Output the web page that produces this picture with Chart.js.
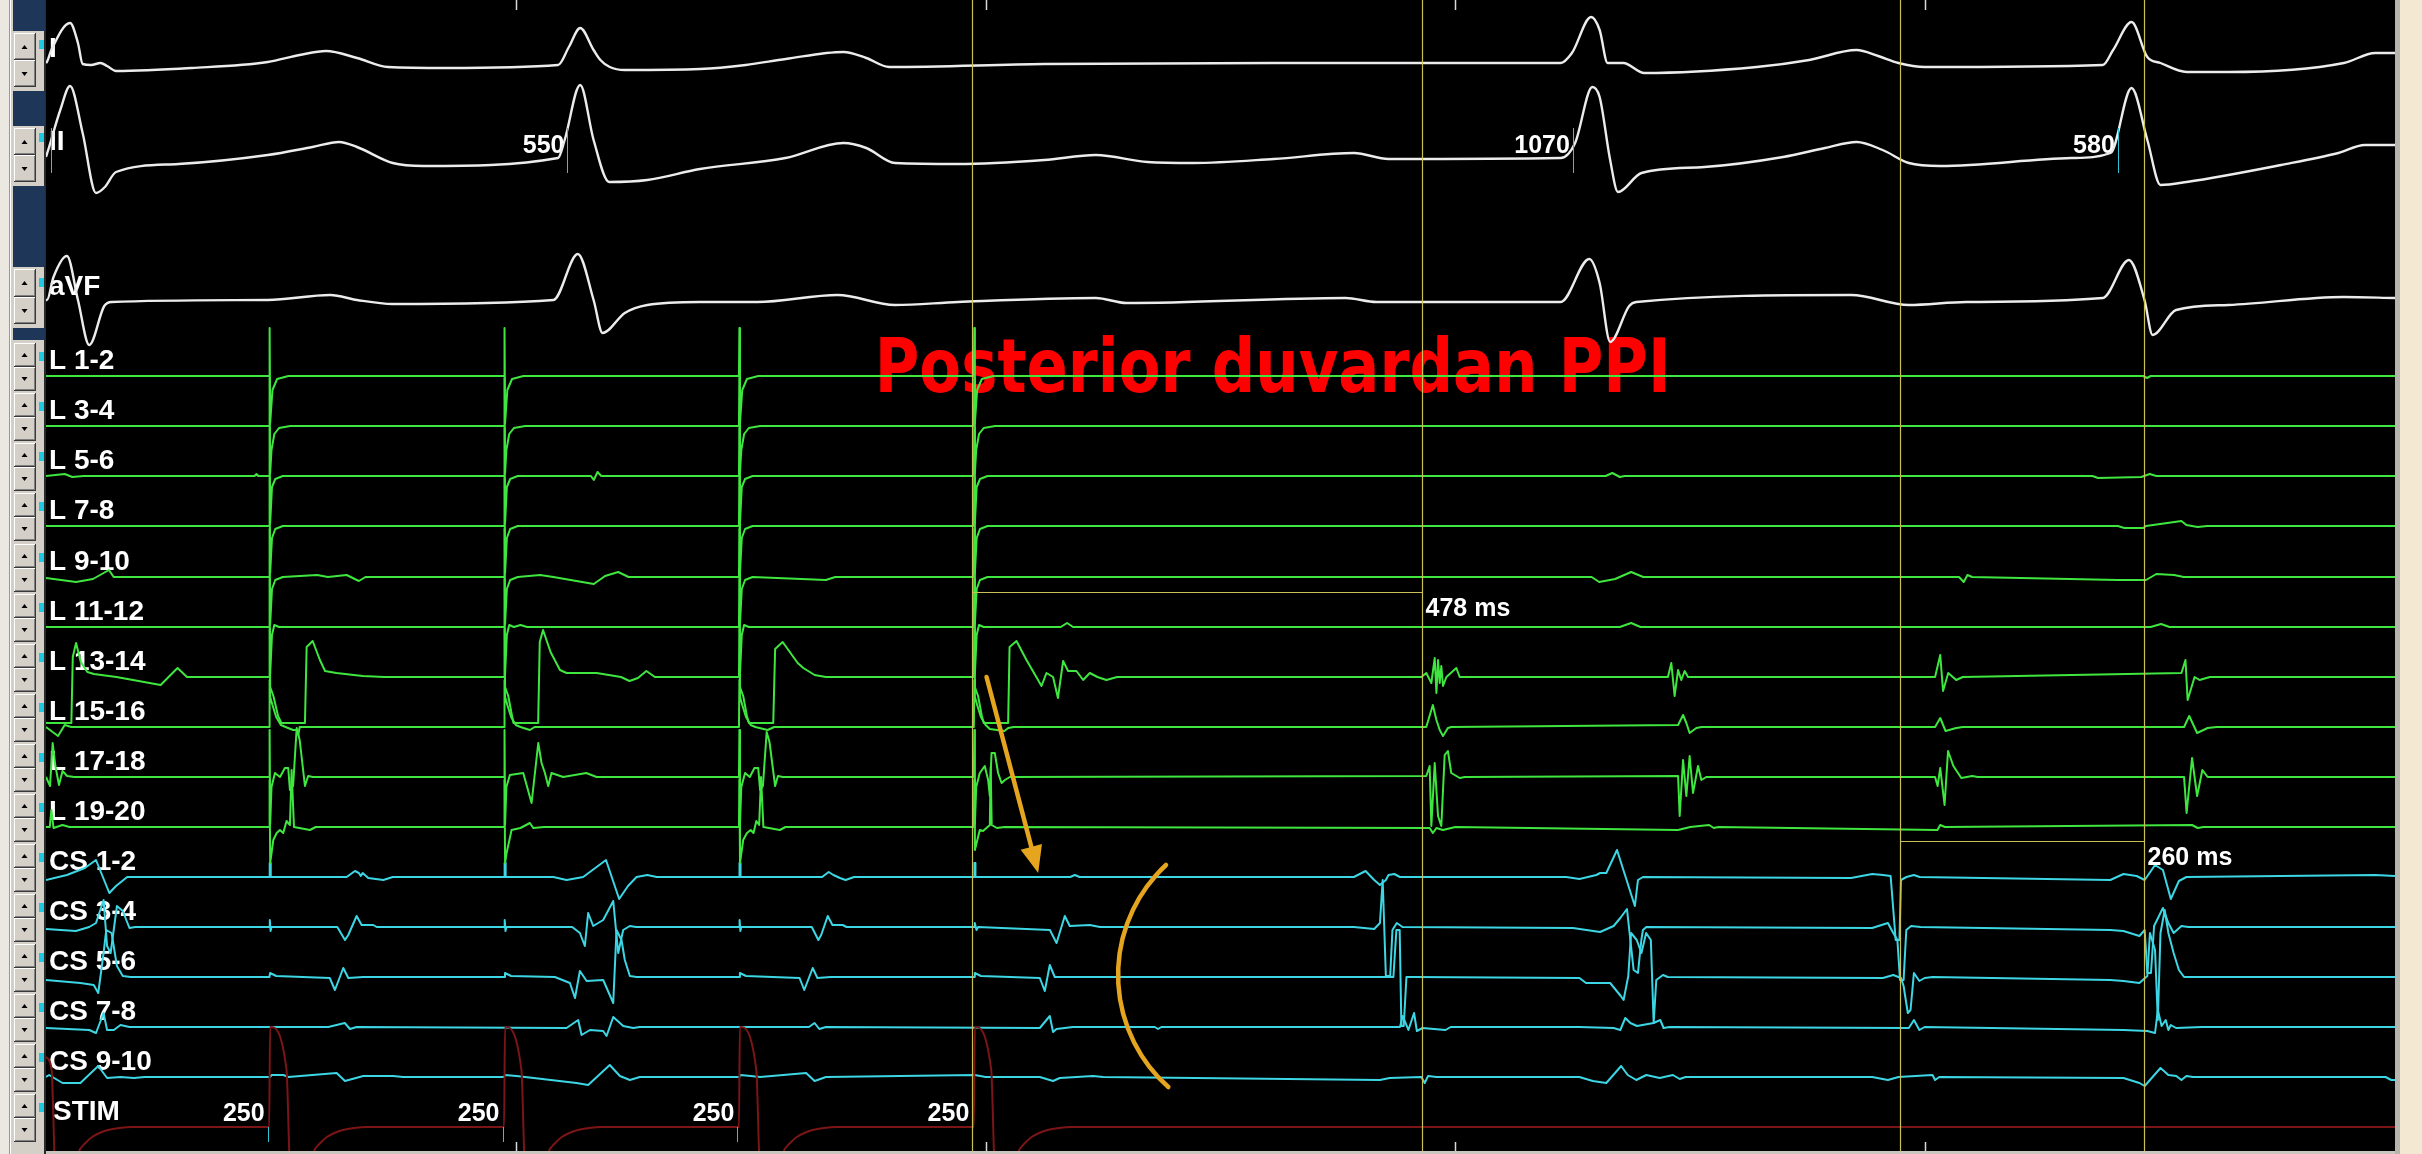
<!DOCTYPE html>
<html>
<head>
<meta charset="utf-8">
<title>Posterior duvardan PPI</title>
<script src="https://cdn.jsdelivr.net/npm/chart.js@4.4.1/dist/chart.umd.min.js"></script>
<style>
  html, body { margin: 0; padding: 0; background: #000; overflow: hidden; }
  #wrap { width: 2422px; height: 1154px; }
</style>
</head>
<body>
<div id="wrap"><canvas id="chart" width="2422" height="1154"></canvas></div>
<script>
// channels, top to bottom
const channelNames = ['I', 'II', 'aVF', 'L 1-2', 'L 3-4', 'L 5-6', 'L 7-8', 'L 9-10', 'L 11-12', 'L 13-14',
    'L 15-16', 'L 17-18', 'L 19-20', 'CS 1-2', 'CS 3-4', 'CS 5-6', 'CS 7-8', 'CS 9-10', 'STIM'];

// events (ms from left edge of the 2500 ms window)
const paceTimes = [238, 488, 738, 988];
const paceLabels = ['250', '250', '250', '250'];
const qrsOnsets = [5, 555, 1625, 2205];
const rrLabels = ['', '550', '1070', '580'];
const cursorTimes = [986, 1464, 1973, 2233];
const intervalLabels = ['478 ms', '260 ms'];
const timeMarks = [500, 1000, 1500, 2000];

// signals: flat lists of [time ms, amplitude] pairs
const leadI = [
    0,4, 1,5, 5.7,17, 25.6,44, 34,24, 39,3, 48,2, 58,4, 65,1, 74.5,-4, 155,-1, 236,5, 270,12, 298,16, 331,9, 364,0, 426,-1, 545,2,
    556.5,20, 568.5,39, 582.8,17, 590,7, 600,0, 616,-3, 696,-2, 744.7,2, 787.4,8, 848.6,15, 873,9, 897.4,0, 1062,3, 1306.7,4, 1612,4,
    1624,14, 1644.4,50, 1653.5,37, 1662,4, 1678.7,4, 1701,-6, 1820.6,0, 1876.6,7, 1926.9,17, 1950,11, 1971.5,4, 1999.4,0, 2189,2,
    2200,17, 2219.6,45, 2236.4,10, 2250.4,4, 2278.2,-5, 2322.8,-5, 2445.6,4, 2479,14, 2500,14
];
const leadII = [
    0,5, 3.3,15, 15.2,52, 25.6,76, 39,29, 53.2,-31, 62.7,-25, 74.5,-10, 141,-2, 236,7, 283.6,15, 312,20, 331,15, 369,-1, 402,-4, 545,4,
    552,22, 568.5,77, 582.8,22, 599.4,-20, 640,-18, 696,-7, 787,4, 848.6,19, 873,14, 903.6,-1, 970.7,-2, 1062.4,2, 1117.3,7, 1172.3,0,
    1221,-1, 1306.7,3, 1392,9, 1428.8,3, 1612,4, 1627.4,19, 1645.7,75, 1653.5,65, 1664.7,2, 1673,-30, 1698,-11, 1765,-5, 1848.8,5,
    1893.4,14, 1927,20, 1954.7,12, 1982.6,-1, 2016,-4, 2155.6,4, 2197.3,9, 2219.6,74, 2236.4,22, 2250.4,-23, 2278.2,-20, 2378.7,-3,
    2439.8,9, 2467.8,17, 2500,17
];
const leadAVF = [
    0,2, 1,2, 8,25, 22.3,46, 34,2, 46,-43, 62,-4, 69.8,0, 236,2, 302.5,7, 331,2, 369,-2, 540,2, 566,48, 582.8,2, 592.3,-31, 616,-11,
    640,-3, 696,0, 757,0, 842.5,7, 903.6,-3, 970.7,0, 1117.3,4, 1150,-1, 1383,4, 1416,0, 1612,0, 1642.5,43, 1653.5,19, 1664.7,-40,
    1685,-4, 1692.6,0, 1921.3,7, 1982.6,-3, 2044,0, 2189,4, 2216.8,42, 2233.4,2, 2242,-33, 2267,-8, 2322.8,-3, 2445.6,5, 2500,4
];
const l12 = [
    0,0, 237.5,0, 238,48, 238.6,-47, 241,-14, 246,-3, 258,0,
    487.5,0, 488,48, 488.6,-47, 491,-14, 496,-3, 508,0,
    737.5,0, 738,48, 738.6,-47, 741,-14, 746,-3, 758,0,
    987.5,0, 988,48, 988.6,-47, 991,-14, 996,-3, 1008,0,
    2232,0, 2236,-2, 2240,0, 2500,0
];
const l34 = [
    0,0, 237.5,0, 238,48, 238.6,-47, 240,-24, 243,-8, 248,-2, 260,0,
    487.5,0, 488,48, 488.6,-47, 490,-24, 493,-8, 498,-2, 510,0,
    737.5,0, 738,48, 738.6,-47, 740,-24, 743,-8, 748,-2, 760,0,
    987.5,0, 988,48, 988.6,-47, 990,-24, 993,-8, 998,-2, 1010,0, 2500,0
];
const l56 = [
    0,0, 20,2, 28,-1, 40,0, 222,0, 224,2, 226,0, 237.5,0, 238,48, 238.6,-47, 240.5,-11, 244,-3, 252,0,
    487.5,0, 488,48, 488.6,-47, 490.5,-11, 494,-3, 502,0, 580,0, 583,-4, 587,4, 591,0,
    737.5,0, 738,48, 738.6,-47, 740.5,-11, 744,-3, 752,0,
    987.5,0, 988,48, 988.6,-47, 990.5,-11, 994,-3, 1002,0,
    1660,0, 1667,3, 1675,-1, 1680,0, 2178,0, 2184,-2, 2230,-1, 2239,2, 2246,0, 2500,0
];
const l78 = [
    0,0, 237.5,0, 238,48, 238.6,-47, 240.5,-12, 244,-3, 252,0,
    487.5,0, 488,48, 488.6,-47, 490.5,-12, 494,-3, 502,0,
    737.5,0, 738,48, 738.6,-47, 740.5,-12, 744,-3, 752,0,
    987.5,0, 988,48, 988.6,-47, 990.5,-12, 994,-3, 1002,0,
    2205,0, 2212,-2, 2232,-2, 2235,0, 2272.7,5, 2278,1, 2290,-1, 2300,0, 2500,0
];
const l910 = [
    0,-1, 32,-5, 50,-2, 67,7, 72,0, 236,0,
    237.5,0, 238,48, 238.6,-47, 240.5,-12, 244,-3, 252,0, 288.6,2, 300,0, 320,2, 333,-4, 340,0,
    487.5,0, 488,48, 488.6,-47, 490.5,-12, 494,-3, 502,0, 526,2, 540,0, 583,-7, 595,1, 609,5, 620,0,
    737.5,0, 738,48, 738.6,-47, 740.5,-12, 744,-3, 752,0, 830,-3, 840,0,
    987.5,0, 988,48, 988.6,-47, 990.5,-12, 994,-3, 1002,0,
    1645,0, 1653,-5, 1670,-2, 1687,5, 1700,0, 2036,0, 2041,-5, 2045,2, 2050,0,
    2205,-3, 2235,-3, 2246,3, 2265,2, 2275,0, 2500,0
];
const l1112 = [
    0,0, 237.5,0, 238,48, 238.6,-47, 240.5,-8, 243,2, 248,0,
    487.5,0, 488,48, 488.6,-47, 490.5,-8, 493,2, 498,0, 505,2, 512,0,
    737.5,0, 738,48, 738.6,-47, 740.5,-8, 743,2, 748,0,
    987.5,0, 988,48, 988.6,-47, 990.5,-8, 993,2, 998,0, 1080,0, 1086.7,4, 1093,0,
    1675,0, 1687,4, 1697,0, 2240,0, 2251,3, 2260,0, 2500,0
];
const l1314 = [
    0,-46, 27,-46, 28.5,20, 32,34, 37,15, 44,5, 51,3, 75,0, 122,-8, 140,9, 150,0,
    237.5,0, 238,48, 238.6,-10, 242,-19, 247,-39, 250.5,-46, 275.6,-46, 277.4,30, 283.8,36, 291.5,17, 297,6, 309,4, 337,1, 360,0,
    487.5,0, 488,48, 488.6,-10, 492,-19, 496,-39, 497.5,-46, 523.8,-46, 525.5,35, 529,47, 537,25, 547,7, 554,4, 586,4, 612,0, 621,-4, 630,-1, 639,6, 648,0,
    737.5,0, 738,48, 738.6,-10, 742,-19, 746,-39, 748,-46, 774,-46, 776,28, 784,35, 800,14, 806,9, 818,2, 830,0,
    987.5,0, 988,48, 988.6,-10, 992,-19, 996,-39, 998,-46, 1024,-46, 1025.5,30, 1032.9,36, 1043.5,17, 1054,0, 1059.5,-9, 1064.8,4,
    1071.8,0, 1077,-21, 1082.5,16, 1087.8,6, 1096.7,6, 1103.8,-3, 1110.9,4, 1119,0, 1128.6,-3, 1140,0,
    1463.8,0, 1469,4, 1474.4,-6, 1478,19, 1479.8,-16, 1481.5,17, 1483.3,-6, 1485,11, 1486.8,-9, 1490.4,0, 1501,9, 1504.6,0,
    1726.2,0, 1729.8,14, 1733.3,-19, 1737,7, 1740.4,-3, 1744,6, 1747.6,0,
    2010.5,0, 2016,22, 2019,-14, 2024.5,4, 2033,-3, 2040,0,
    2272.7,4, 2277,17, 2279.3,-23, 2286.7,0, 2292,-3, 2303,0, 2500,0
];
const l1516 = [
    0,0, 12.8,-9, 19.9,2, 27,0,
    237.5,0, 238,47, 238.6,30, 241,22, 245,10, 250,2, 255,0, 263,-3, 266.7,-3, 268.5,-8, 270,0, 276,0,
    487.5,0, 488,47, 488.6,30, 491,22, 495,10, 500,2, 505,0, 515,-3, 520,0,
    737.5,0, 738,47, 738.6,30, 741,22, 745,10, 750,2, 755,0, 768,-3, 775,0,
    987.5,0, 988,47, 988.6,30, 991,22, 995,10, 1000,2, 1004.5,-2, 1020,-4, 1024,-1, 1030,0,
    1469,0, 1476,22, 1479.8,7, 1483.3,-3, 1486.8,-9, 1492,-1, 1495.6,0,
    1737,2, 1742.3,12, 1745.8,4, 1749.3,-6, 1756.4,-1, 1762,0,
    2010.5,0, 2016,9, 2021.7,-4, 2033,-1, 2040,0,
    2275.5,0, 2281,11, 2289.4,-6, 2300.6,-1, 2310,0, 2500,0
];
const l1718 = [
    0,0, 4.3,-9, 7.1,34, 10,11, 13.8,-8, 17.6,6, 22.5,1, 30,0,
    237.5,0, 238,47, 238.6,-47, 240,-10, 243.7,4, 249,0, 254.3,9, 257.8,9, 259.6,-13, 263,-9, 266.8,49, 270,37, 275.6,-9, 279,1, 284,0,
    487.5,0, 488,47, 488.6,-47, 490,-10, 493.7,2, 507.9,4, 516.8,-26, 523.9,34, 527.4,14, 531,4, 534.5,-9, 538,4, 550.4,0, 575,4, 586,0,
    737.5,0, 738,47, 738.6,-47, 740,-10, 744,4, 749,0, 754,9, 758,9, 760,-13, 763,-9, 767,45, 770,35, 776,-9, 779,1, 784,0,
    987.5,0, 988,47, 988.6,-47, 990,-10, 993.8,4, 999.1,11, 1002.7,-3, 1004.5,-19, 1006.3,24, 1009.8,24, 1013.3,4, 1017,-6, 1020.5,-3, 1025.8,0,
    1469,1, 1472.6,11, 1474.4,-49, 1478,14, 1481.5,-39, 1485,-49, 1488.6,22, 1492,26, 1495.6,4, 1504.6,-1, 1510,0,
    1737,1, 1738.7,-39, 1742.3,17, 1745.8,-19, 1749.3,21, 1752.9,-16, 1758.2,11, 1761.8,-3, 1767,0,
    2010.5,0, 2013.2,-9, 2016,9, 2020.6,-28, 2024.3,26, 2030,11, 2038.4,-1, 2050,1, 2056,0,
    2275.5,0, 2278.2,-36, 2284,19, 2289.4,-19, 2295,7, 2300.6,0, 2500,0
];
const l1920 = [
    0,0, 4,0, 5.7,17, 8,-1, 17.6,2, 25,0,
    237.5,0, 238,47, 238.6,-36, 241.9,-13, 245.5,-6, 249,-3, 252.5,-6, 256,6, 259.6,2, 261.4,57, 263.9,0, 281,-3, 287,0,
    487.5,0, 488,47, 488.6,-36, 490.2,-26, 495.5,-3, 505,-1, 515,4, 518.6,-1, 530,0,
    737.5,0, 738,47, 738.6,-36, 742,-13, 746,-6, 750,-3, 753,-6, 756,6, 759,2, 761,50, 763.5,0, 781,-3, 787,0,
    987.5,0, 988,47, 988.6,-23, 993.8,-3, 997.3,-4, 1004.5,2, 1005.4,60, 1006.5,2, 1012,-1, 1020,0,
    1472.6,-1, 1476,-6, 1479.8,-1, 1486.8,-3, 1500,0,
    1737,-3, 1750,0, 1770,2, 1775,-1, 1780,0,
    2013,-3, 2016,2, 2021,0,
    2284,2, 2290,-1, 2296,0, 2500,0
];
const cs12 = [
    0,-3, 22.3,2, 41.3,9, 53.2,17, 67.4,-16, 74.5,-9, 86.4,0,
    237.8,0, 238.1,14, 238.8,14, 239.2,0, 320,0, 328.8,6, 333,4, 335,1, 337,4, 343,-1, 359,-3, 369,0,
    487.8,0, 488.1,14, 488.8,14, 489.2,0, 540,0, 554,-3, 571.7,0, 596,17, 610,-22, 619.4,-9, 628.5,0, 640,2, 650,0,
    737.8,0, 738.1,14, 738.8,14, 739.2,0, 826,0, 833,5, 838,2, 845,-1, 851,-3, 860,0,
    987.8,0, 988.1,14, 988.8,14, 989.2,0, 1090,0, 1095,2, 1100,0,
    1392,0, 1404.4,6, 1413.6,-3, 1419.7,-8, 1426,-3, 1428.8,2, 1435,3, 1441,0,
    1618,0, 1632,-2, 1650,2, 1654,4, 1660.6,4, 1672,27, 1691,-29, 1694.3,-3, 1699.6,0,
    1921,-1, 1943.6,3, 1955,2, 1963.2,1, 1968.6,-63, 1972.6,-63, 1974.2,-3, 1980,0, 1988,2, 1994,0,
    2197,-3, 2211,3, 2225,1, 2233.6,-3, 2244.6,12, 2253,7, 2261.4,-22, 2270,-4, 2278,0, 2479,2, 2500,1
];
const cs34 = [
    0,-2, 31.8,-4, 46,0, 53.2,4, 61.3,27, 65,-19, 68.8,-26, 75.5,21, 81.7,16, 88.8,-1, 95,0,
    237.8,0, 238.2,7, 239,-4, 240,0, 310,0, 318.2,-13, 321.7,-8, 330.6,11, 335.9,2, 348.3,2, 351.9,0,
    487.8,0, 488.2,7, 489,-4, 490,0, 560,0, 568.2,-6, 573.5,-19, 577,14, 582.4,1, 593,7, 603.7,26, 609,-26, 614.3,-3, 621.4,1, 628,0,
    737.8,0, 738.2,7, 739,-4, 740,0, 815,0, 822,-13, 825,-8, 832,11, 837,2, 848,2, 852,0,
    987.8,0, 988.5,4, 990.3,-3, 992,0, 1068.4,-3, 1075.5,-16, 1084.3,11, 1089.6,1, 1111,2, 1121.6,0,
    1392,0, 1413.6,-2, 1419.7,4, 1422.6,47, 1426,-49, 1430.6,-49, 1433,-3, 1437.6,4, 1443.7,0,
    1625,-1, 1654,-5, 1668.4,1, 1675.5,9, 1682.6,18, 1686.2,-13, 1689.7,-43, 1694.3,-46, 1697.9,-13, 1699.6,-3, 1703.2,0,
    1943.6,-1, 1960.3,4, 1966,-6, 1970.4,-13, 1973.2,-53, 1977,-53, 1979.9,-3, 1985,1, 1995,0,
    2197,-3, 2211,-4, 2228,-9, 2233.6,-3, 2236.4,-46, 2240.3,-46, 2243.6,1, 2253,19, 2258.8,4, 2264.4,-6, 2272.7,1, 2280,0, 2500,0
];
const cs56 = [
    0,-3, 36.6,-6, 50.8,-8, 55.6,-16, 61.3,24, 64.1,47, 69.8,44, 75.5,11, 81.7,1, 90,0,
    237.8,0, 238.5,4, 245,1, 302,-1, 307.5,-13, 316.4,9, 321.7,-1, 337.6,0,
    487.8,0, 488.5,4, 495,1, 541.6,0, 557.6,-6, 563,-21, 568.2,6, 575.4,-4, 593,-3, 603.7,-26, 607.2,47, 612.5,37, 616,17, 621.4,1, 628.5,0,
    737.8,0, 738.5,4, 745,1, 802,-1, 807,-13, 816,9, 821,-1, 835,0,
    987.8,0, 988.5,4, 995,1, 1057.7,-1, 1063,-14, 1068.3,12, 1073.6,0,
    1434,0, 1437.2,47, 1440.7,47, 1442.5,-49, 1445,-49, 1447.9,0, 1455,0,
    1632,-1, 1639,-6, 1664.7,-6, 1676,-19, 1679,-23, 1684,1, 1687,44, 1693,37, 1698,24, 1703,44, 1708,37, 1711,-46, 1713.8,-3, 1720.9,2, 1726,0,
    1955,-1, 1966,2, 1974.2,-1, 1977,-9, 1981.5,-36, 1984.4,-33, 1988,4, 1993.8,-4, 1999.4,-1, 2008,0,
    2197,-3, 2211,-4, 2228,-6, 2236.4,1, 2239.2,44, 2244.6,27, 2247.6,-43, 2250.4,44, 2254.9,67, 2258.8,44, 2264.4,24, 2270,7, 2275.5,0, 2500,0
];
const cs78 = [
    0,-1, 46,-3, 53.2,-6, 61.3,14, 65,-3, 72.2,-3, 79.3,2, 88.8,0,
    300.4,0, 318,4, 323.5,-2, 330.6,0,
    554,-1, 566.4,7, 570,-8, 579,-3, 593,-4, 596.6,-9, 603.7,10, 614.3,1, 625,-1, 632,0,
    812,0, 818,4, 823,-2, 830,0,
    1057.7,-1, 1068.3,11, 1071.8,-5, 1075.4,-2, 1093,0, 1180,0, 1183.5,-2, 1187,0,
    1441,0, 1444,11, 1450,-3, 1456,14, 1459,-4, 1465,-1, 1489.5,-3, 1495,0,
    1632,0, 1668.4,-1, 1675.5,-3, 1680.8,9, 1686.2,4, 1693.2,1, 1710.9,4, 1718,7, 1721.6,-1, 1728,0,
    1982.6,-1, 1988,7, 1993.8,-3, 1999.4,0,
    2211,-3, 2236.4,-4, 2244.6,-6, 2247.6,17, 2251.6,1, 2256,7, 2258.8,-3, 2261.4,2, 2267,-1, 2294.5,0, 2500,0
];
const cs910 = [
    0,0, 3.3,2, 17.6,-6, 36.6,-6, 55.6,11, 65,-1, 79.3,0, 93.5,-1, 105,0,
    238.4,0, 240.2,2, 252.6,2, 257.9,0, 309.3,4, 318.2,-4, 337.6,1, 369.5,1, 380,0,
    487.3,0, 488.5,2, 500.8,1, 510,0, 564.6,-6, 577,-8, 600,12, 610.8,1, 621.4,-3, 632,0,
    738,0, 739,2, 750,1, 760,0, 809,4, 818,-4, 830,0,
    988.5,2, 1000,0, 1057.7,0, 1071.8,-4, 1078.9,-1, 1114.4,1, 1125,0,
    1419.6,-3, 1430,-1, 1463.8,0, 1467.3,-6, 1470.9,1, 1480,0,
    1632,0, 1646.2,-4, 1660.6,-6, 1676.4,11, 1683.4,2, 1692.5,-3, 1703.2,2, 1717.4,-1, 1731.5,2, 1738.7,-2, 1745,0,
    1943.6,0, 1960.3,-3, 1971.5,0, 2007.8,2, 2010.5,-3, 2015,0,
    2211,-1, 2228,-6, 2233.6,-9, 2239.2,-3, 2250.4,9, 2258.8,2, 2267.2,1, 2272.7,-3, 2278,1, 2285,0, 2490,0, 2496,-3, 2500,-3
];
const stim = [
    0,70, 6,57, 9,-27, 11,-60, 32,-60, 35,-26, 38,-20, 43,-15, 49,-10, 57,-6, 66,-3, 78,-1, 91,0,
    237.5,0, 238.5,100, 256,57, 259,-27, 261,-60, 282,-60, 285,-26, 288,-20, 293,-15, 299,-10, 307,-6, 316,-3, 328,-1, 341,0,
    487.5,0, 488.5,100, 506,57, 509,-27, 511,-60, 532,-60, 535,-26, 538,-20, 543,-15, 549,-10, 557,-6, 566,-3, 578,-1, 591,0,
    737.5,0, 738.5,100, 756,57, 759,-27, 761,-60, 782,-60, 785,-26, 788,-20, 793,-15, 799,-10, 807,-6, 816,-3, 828,-1, 841,0,
    987.5,0, 988.5,100, 1006,57, 1009,-27, 1011,-60, 1032,-60, 1035,-26, 1038,-20, 1043,-15, 1049,-10, 1057,-6, 1066,-3, 1078,-1, 1091,0,
    2500,0
];

const signals = [leadI, leadII, leadAVF, l12, l34, l56, l78, l910, l1112, l1314, l1516, l1718, l1920,
    cs12, cs34, cs56, cs78, cs910, stim];

// layout (screen rows, pixels of the 1154 px tall recording)
const rowBaselines = [67, 162, 302, 376, 426, 476, 526, 577, 627, 677, 727, 777, 827, 877, 927, 977, 1027, 1077, 1127];
const rowColors = ['#ececec', '#ececec', '#ececec',
    '#3fe63f', '#3fe63f', '#3fe63f', '#3fe63f', '#3fe63f', '#3fe63f', '#3fe63f', '#3fe63f', '#3fe63f', '#3fe63f',
    '#3dd6e4', '#3dd6e4', '#3dd6e4', '#3dd6e4', '#3dd6e4', '#7c1515'];
const smoothRows = [0, 1, 2, 18];

// annotations in chart units (ms, row px)
const titleText = 'Posterior duvardan PPI';
const titleSpan = [882, 1729];
const titleBaseline = 392;
const bracketLevels = [592, 841];
const arrowPath = [[1001, 677], [1056, 873]];
const arcPath = [[1192, 865], [1141, 973], [1194.5, 1087]];

function toPoints(pairs, base) {
    const pts = [];
    for (let i = 0; i < pairs.length; i += 2) {
        pts.push({ x: pairs[i], y: base - pairs[i + 1] });
    }
    return pts;
}

function labelBaseline(i) {
    if (i === 0) return 57;
    if (i === 1) return 150;
    return rowBaselines[i] - 7;
}

function drawButton(ctx, x, y, w, h, up) {
    ctx.fillStyle = '#d4d0c8';
    ctx.fillRect(x, y, w, h);
    ctx.fillStyle = '#ffffff';
    ctx.fillRect(x, y, w, 1);
    ctx.fillRect(x, y, 1, h);
    ctx.fillStyle = '#808080';
    ctx.fillRect(x + 1, y + h - 2, w - 1, 1);
    ctx.fillRect(x + w - 2, y + 1, 1, h - 1);
    ctx.fillStyle = '#3a3a3a';
    ctx.fillRect(x, y + h - 1, w, 1);
    ctx.fillRect(x + w - 1, y, 1, h);
    const cx = Math.round(x + w / 2) - 0.5, cy = Math.round(y + h / 2);
    ctx.fillStyle = '#000';
    ctx.beginPath();
    if (up) {
        ctx.moveTo(cx - 3, cy + 2); ctx.lineTo(cx + 3, cy + 2); ctx.lineTo(cx, cy - 2);
    } else {
        ctx.moveTo(cx - 3, cy - 2); ctx.lineTo(cx + 3, cy - 2); ctx.lineTo(cx, cy + 2);
    }
    ctx.closePath();
    ctx.fill();
}

function drawSidePanel(ctx, chart) {
    const h = chart.height;
    ctx.fillStyle = '#d4d0c8';
    ctx.fillRect(0, 0, 46, h);
    ctx.fillStyle = '#ebe8e1';
    ctx.fillRect(0, 0, 9, h);
    ctx.fillStyle = '#9c9890';
    ctx.fillRect(9, 0, 1, h);
    ctx.fillStyle = '#ffffff';
    ctx.fillRect(10, 0, 1, h);
    ctx.fillStyle = '#2a2a2a';
    ctx.fillRect(44, 0, 2, h);
    // dark spacer blocks between the surface ECG rows
    ctx.fillStyle = '#1e3657';
    [[0, 31], [91, 126], [186, 267], [328, 340]].forEach(b => ctx.fillRect(13, b[0], 32, b[1] - b[0]));
    // up / down gain buttons per channel
    const slots = [[32, 88], [127, 183], [268, 325]];
    for (let i = 3; i < rowBaselines.length; i++) {
        slots.push([rowBaselines[i] - 34, rowBaselines[i] + 16]);
    }
    slots.forEach(s => {
        const mid = Math.round((s[0] + s[1]) / 2);
        drawButton(ctx, 14, s[0] + 1, 22, mid - s[0] - 1, true);
        drawButton(ctx, 14, mid, 22, s[1] - mid - 1, false);
    });
    // cyan channel markers
    ctx.fillStyle = '#22c8e0';
    for (let i = 0; i < channelNames.length; i++) {
        const yb = labelBaseline(i);
        ctx.fillRect(39, yb - 17, 5, 9);
    }
}

const panelPlugin = {
    id: 'ekgPanel',
    beforeDraw(chart) {
        const ctx = chart.ctx;
        const area = chart.chartArea;
        ctx.save();
        ctx.fillStyle = '#d4d0c8';
        ctx.fillRect(0, 0, chart.width, chart.height);
        ctx.fillStyle = '#000000';
        ctx.fillRect(area.left, 0, area.right - area.left, area.bottom);
        drawSidePanel(ctx, chart);
        ctx.fillStyle = '#b7b4ad';
        ctx.fillRect(area.right, 0, 5, chart.height);
        ctx.fillStyle = '#f3e8d2';
        ctx.fillRect(area.right + 5, 0, chart.width - area.right - 5, chart.height);
        ctx.fillStyle = '#c9c6bf';
        ctx.fillRect(area.left, area.bottom, area.right - area.left, chart.height - area.bottom);
        ctx.restore();
    },
    beforeDatasetsDraw(chart) {
        const ctx = chart.ctx;
        const xs = chart.scales.x, ys = chart.scales.y;
        const area = chart.chartArea;
        ctx.save();
        // title
        const x0 = xs.getPixelForValue(titleSpan[0]);
        const x1 = xs.getPixelForValue(titleSpan[1]);
        ctx.font = 'bold 74px "DejaVu Sans", sans-serif';
        const tw = ctx.measureText(titleText).width;
        ctx.translate(x0, ys.getPixelForValue(titleBaseline));
        ctx.scale((x1 - x0) / tw, 1);
        ctx.fillStyle = '#ff0000';
        ctx.textBaseline = 'alphabetic';
        ctx.fillText(titleText, 0, 0);
        ctx.restore();

        ctx.save();
        ctx.fillStyle = '#ffffff';
        ctx.textBaseline = 'alphabetic';
        // channel names
        ctx.font = 'bold 28px "Liberation Sans", Arial, sans-serif';
        ctx.textAlign = 'left';
        channelNames.forEach((name, i) => {
            const lx = name === 'STIM' ? area.left + 7 : area.left + 3;
            ctx.fillText(name, lx, ys.getPixelForValue(labelBaseline(i)));
        });
        // pacing cycle length labels
        ctx.font = 'bold 25px "Liberation Sans", Arial, sans-serif';
        ctx.textAlign = 'right';
        paceTimes.forEach((t, i) => {
            ctx.fillText(paceLabels[i], xs.getPixelForValue(t) - 5, ys.getPixelForValue(rowBaselines[18] - 6));
        });
        // RR interval labels on lead II
        qrsOnsets.forEach((t, i) => {
            if (rrLabels[i]) ctx.fillText(rrLabels[i], xs.getPixelForValue(t) - 3, ys.getPixelForValue(153));
        });
        // time marks
        ctx.strokeStyle = '#d8d8d8';
        ctx.lineWidth = 1.5;
        timeMarks.forEach(t => {
            const x = Math.round(xs.getPixelForValue(t)) + 0.5;
            ctx.beginPath();
            ctx.moveTo(x, area.top); ctx.lineTo(x, area.top + 10);
            ctx.moveTo(x, area.bottom - 9); ctx.lineTo(x, area.bottom);
            ctx.stroke();
        });
        ctx.restore();
    },
    afterDatasetsDraw(chart) {
        const ctx = chart.ctx;
        const xs = chart.scales.x, ys = chart.scales.y;
        const area = chart.chartArea;
        ctx.save();
        // QRS onset markers
        ctx.strokeStyle = '#2ec4d4';
        ctx.lineWidth = 1;
        qrsOnsets.forEach(t => {
            const x = Math.round(xs.getPixelForValue(t)) + 0.5;
            ctx.beginPath();
            ctx.moveTo(x, ys.getPixelForValue(128)); ctx.lineTo(x, ys.getPixelForValue(173));
            ctx.stroke();
        });
        // stimulus markers
        paceTimes.forEach(t => {
            const x = Math.round(xs.getPixelForValue(t) - 2) + 0.5;
            ctx.beginPath();
            ctx.moveTo(x, ys.getPixelForValue(rowBaselines[18])); ctx.lineTo(x, ys.getPixelForValue(rowBaselines[18] + 15));
            ctx.stroke();
        });
        // cursors and interval brackets
        ctx.strokeStyle = '#c9c058';
        ctx.lineWidth = 1.2;
        cursorTimes.forEach(t => {
            const x = Math.round(xs.getPixelForValue(t)) + 0.5;
            ctx.beginPath();
            ctx.moveTo(x, area.top); ctx.lineTo(x, area.bottom);
            ctx.stroke();
        });
        ctx.fillStyle = '#ffffff';
        ctx.font = 'bold 25px "Liberation Sans", Arial, sans-serif';
        ctx.textAlign = 'left';
        ctx.textBaseline = 'alphabetic';
        intervalLabels.forEach((label, i) => {
            const xa = Math.round(xs.getPixelForValue(cursorTimes[i * 2])) + 0.5;
            const xb = Math.round(xs.getPixelForValue(cursorTimes[i * 2 + 1])) + 0.5;
            const y = Math.round(ys.getPixelForValue(bracketLevels[i])) + 0.5;
            ctx.beginPath();
            ctx.moveTo(xa, y); ctx.lineTo(xb, y);
            ctx.stroke();
            ctx.fillText(label, xb + 3, y + 23);
        });
        // arrow
        const ax0 = xs.getPixelForValue(arrowPath[0][0]), ay0 = ys.getPixelForValue(arrowPath[0][1]);
        const ax1 = xs.getPixelForValue(arrowPath[1][0]), ay1 = ys.getPixelForValue(arrowPath[1][1]);
        const len = Math.hypot(ax1 - ax0, ay1 - ay0);
        const ux = (ax1 - ax0) / len, uy = (ay1 - ay0) / len;
        const head = 27, half = 11;
        const bx = ax1 - ux * head, by = ay1 - uy * head;
        ctx.strokeStyle = '#e6a51e';
        ctx.fillStyle = '#e6a51e';
        ctx.lineWidth = 4.5;
        ctx.lineCap = 'round';
        ctx.beginPath();
        ctx.moveTo(ax0, ay0); ctx.lineTo(bx, by);
        ctx.stroke();
        ctx.beginPath();
        ctx.moveTo(ax1, ay1);
        ctx.lineTo(bx - uy * half, by + ux * half);
        ctx.lineTo(bx + uy * half, by - ux * half);
        ctx.closePath();
        ctx.fill();
        // arc through three points
        const p = arcPath.map(q => [xs.getPixelForValue(q[0]), ys.getPixelForValue(q[1])]);
        const d = 2 * (p[0][0] * (p[1][1] - p[2][1]) + p[1][0] * (p[2][1] - p[0][1]) + p[2][0] * (p[0][1] - p[1][1]));
        const s0 = p[0][0] * p[0][0] + p[0][1] * p[0][1];
        const s1 = p[1][0] * p[1][0] + p[1][1] * p[1][1];
        const s2 = p[2][0] * p[2][0] + p[2][1] * p[2][1];
        const cx = (s0 * (p[1][1] - p[2][1]) + s1 * (p[2][1] - p[0][1]) + s2 * (p[0][1] - p[1][1])) / d;
        const cy = (s0 * (p[2][0] - p[1][0]) + s1 * (p[0][0] - p[2][0]) + s2 * (p[1][0] - p[0][0])) / d;
        const r = Math.hypot(p[0][0] - cx, p[0][1] - cy);
        const aStart = Math.atan2(p[2][1] - cy, p[2][0] - cx);
        const aEnd = Math.atan2(p[0][1] - cy, p[0][0] - cx);
        ctx.lineWidth = 4.5;
        ctx.beginPath();
        ctx.arc(cx, cy, r, aStart, aEnd, false);
        ctx.stroke();
        ctx.restore();
    }
};

const datasets = signals.map((sig, i) => ({
    label: channelNames[i],
    data: toPoints(sig, rowBaselines[i]),
    borderColor: rowColors[i],
    borderWidth: i < 3 ? 2.4 : 2,
    pointRadius: 0,
    tension: 0,
    cubicInterpolationMode: smoothRows.includes(i) ? 'monotone' : 'default',
    borderJoinStyle: 'round',
    clip: 0,
    order: i === 18 ? 0 : 1
}));

new Chart(document.getElementById('chart'), {
    type: 'line',
    data: { datasets: datasets },
    options: {
        responsive: false,
        animation: false,
        devicePixelRatio: 1,
        parsing: false,
        events: [],
        layout: { padding: { left: 46, right: 27, top: 0, bottom: 3 } },
        scales: {
            x: { type: 'linear', min: 0, max: 2500, display: false },
            y: { type: 'linear', min: 0, max: 1151, reverse: true, display: false }
        },
        plugins: {
            legend: { display: false },
            tooltip: { enabled: false }
        }
    },
    plugins: [panelPlugin]
});
</script>
</body>
</html>
